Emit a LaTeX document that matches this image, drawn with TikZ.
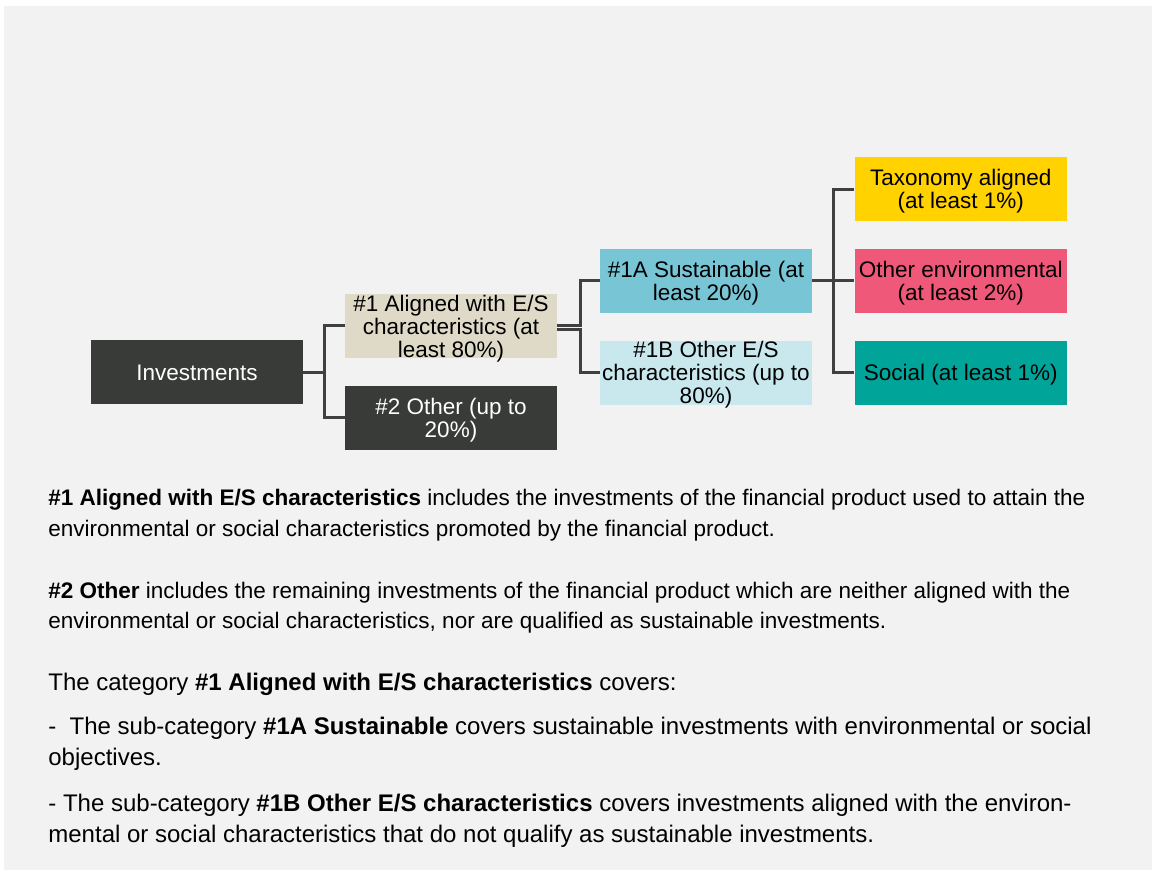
\documentclass[tikz,border=0pt]{standalone}
\usepackage{fontspec}
\setmainfont{Liberation Sans}
\usepackage{tikz}
\usetikzlibrary{positioning}
\definecolor{panegrey}{HTML}{F2F2F2}
\definecolor{invdark}{HTML}{393B38}
\definecolor{alignbeige}{HTML}{DFDAC8}
\definecolor{susblue}{HTML}{78C5D6}
\definecolor{otherblue}{HTML}{C9E8EE}
\definecolor{taxyellow}{HTML}{FFD200}
\definecolor{envpink}{HTML}{F0587A}
\definecolor{socteal}{HTML}{00A499}
\definecolor{linkgrey}{HTML}{404040}

\begin{document}
\begin{tikzpicture}[x=0.5pt, y=-0.5pt, font=\fontsize{11.25}{11.5}\selectfont,
    node distance=13.5pt and 21pt,
    box/.style={minimum width=106pt, minimum height=32pt, inner sep=0pt, text depth=0pt, align=center, text=black},
    darkbox/.style={box, fill=invdark, text=white},
    link/.style={draw=linkgrey, line width=1.5pt},
    para/.style={anchor=base west, inner sep=0pt, text=black},
    bigpara/.style={para, font=\fontsize{12}{14}\selectfont}]
        \useasboundingbox (0,0) rectangle (1152,871);
        \fill[panegrey] (4,6) rectangle (1152,870);

        % tree
        \node[darkbox] (inv) at (197,372.5) {Investments};
        \node[box, fill=alignbeige] (a1) at (451,326) {\#1 Aligned with E/S\\characteristics (at\\least 80\%)};
        \node[darkbox, below=of a1] (a2) {\#2 Other (up to\\20\%)};
        \node[box, fill=susblue] (s1a) at (706,281) {\#1A Sustainable (at\\least 20\%)};
        \node[box, fill=otherblue, below=of s1a] (s1b) {\#1B Other E/S\\characteristics (up to\\80\%)};
        \node[box, fill=envpink, right=of s1a] (oenv) {Other environmental\\(at least 2\%)};
        \node[box, fill=taxyellow, above=of oenv] (tax) {Taxonomy aligned\\(at least 1\%)};
        \node[box, fill=socteal, below=of oenv] (soc) {Social (at least 1\%)};

        \draw[link] (inv.east) -- ++(21,0) |- (a1);
        \draw[link] (inv.east) -- ++(21,0) |- (a2);
        \draw[link] (a1.east) -- ++(23,0) |- (s1a);
        \draw[link] ([yshift=-2pt]a1.east) -- ++(23,0) |- (s1b);
        \draw[link] (s1a.east) -- ++(21,0) |- (tax);
        \draw[link] (s1a.east) -- ++(21,0) |- (oenv);
        \draw[link] (s1a.east) -- ++(21,0) |- (soc);

        % notes
        \node[para] (n1a) at (48,506) {\textbf{\#1 Aligned with E/S characteristics} includes the investments of the financial product used to attain the};
        \node[para] (n1b) at (48,537) {environmental or social characteristics promoted by the financial product.};
        \node[para] (n2a) at (48,598) {\textbf{\#2 Other} includes the remaining investments of the financial product which are neither aligned with the};
        \node[para] (n2b) at (48,629) {environmental or social characteristics, nor are qualified as sustainable investments.};
        \node[bigpara] (n3) at (48,690) {The category \textbf{\#1 Aligned with E/S characteristics} covers:};
        \node[bigpara] (n4a) at (48,734) {-~~The sub-category \textbf{\#1A Sustainable} covers sustainable investments with environmental or social};
        \node[bigpara] (n4b) at (48,765) {objectives.};
        \node[bigpara] (n5a) at (48,811) {- The sub-category \textbf{\#1B Other E/S characteristics} covers investments aligned with the environ-};
        \node[bigpara] (n5b) at (48,842) {mental or social characteristics that do not qualify as sustainable investments.};
\end{tikzpicture}
\end{document}
